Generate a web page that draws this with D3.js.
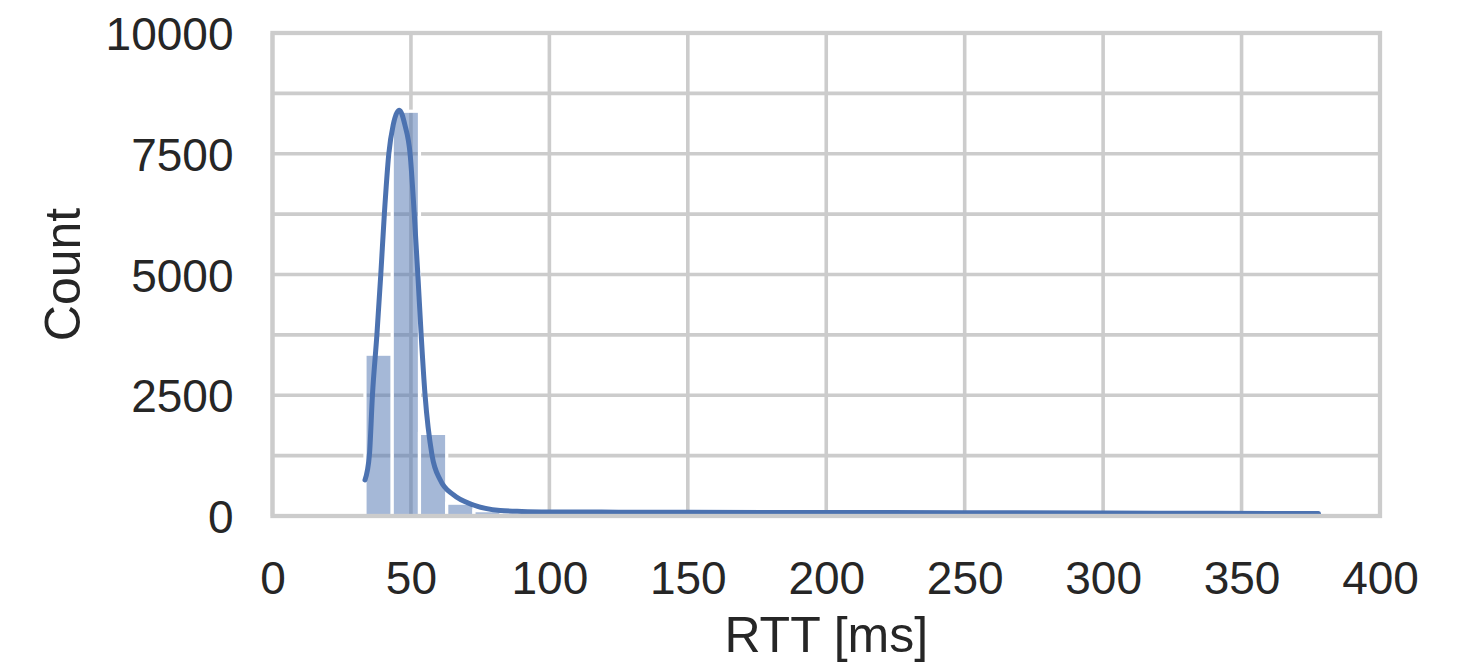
<!DOCTYPE html>
<html>
<head>
<meta charset="utf-8">
<script src="https://cdn.jsdelivr.net/npm/d3@7"></script>
<style>
  html, body { margin: 0; padding: 0; background: #ffffff; }
  svg { display: block; }
  text { font-family: "Liberation Sans", Arial, sans-serif; fill: #262626; }
</style>
</head>
<body>
<svg id="chart" width="1466" height="662"></svg>
<script>
// ---- data ----
const binStart = 33.4;      // ms, left edge of first bin
const binWidth = 9.84;      // ms
const binCounts = [3350, 8380, 1710, 265, 110, 80, 72, 70, 68, 66, 64, 62, 62, 60, 60, 58, 58, 56, 56, 55,
                   54, 54, 52, 52, 50, 50, 48, 48, 46, 46, 45, 44, 44, 42, 42];
const kdeX = [33.4, 35.0, 36.1, 37.7, 39.1, 40.4, 42.0, 43.6, 45.8, 47.8, 49.7, 51.2, 52.5, 53.7, 55.1, 57.6,
              60.6, 65.4, 72.6, 82.2, 90, 100, 125, 150, 200, 250, 300, 340, 377.8];
const kdeY = [745, 1263, 2505, 3747, 4990, 6253, 7495, 8100, 8400, 8100, 7495, 6253, 4990, 3747, 2505, 1263,
              745, 435, 228, 115, 95, 85, 80, 77, 72, 68, 62, 56, 50];
const xTicks = [0, 50, 100, 150, 200, 250, 300, 350, 400];
const yTicks = [0, 2500, 5000, 7500, 10000];
const yGrid = [0, 1250, 2500, 3750, 5000, 6250, 7500, 8750, 10000];
const xLabel = "RTT [ms]";
const yLabel = "Count";

(function () {
// ---- layout ----
const svg = d3.select("#chart");
const mLeft = 272.5, mRight = 1380, mTop = 33, mBottom = 516;
const x = d3.scaleLinear().domain([0, 400]).range([mLeft, mRight]);
const y = d3.scaleLinear().domain([0, 10000]).range([mBottom, mTop]);
const blue = "#4c72b0";
const gridColor = "#cccccc";

// grid
const g = svg.append("g");
g.selectAll(".hg").data(yGrid).join("line")
  .attr("x1", mLeft).attr("x2", mRight)
  .attr("y1", d => y(d)).attr("y2", d => y(d))
  .attr("stroke", gridColor).attr("stroke-width", 3.6);
g.selectAll(".vg").data(xTicks).join("line")
  .attr("y1", mTop).attr("y2", mBottom)
  .attr("x1", d => x(d)).attr("x2", d => x(d))
  .attr("stroke", gridColor).attr("stroke-width", 3.6);

// bars
svg.append("g").selectAll("rect").data(binCounts).join("rect")
  .attr("x", (d, i) => x(binStart + i * binWidth))
  .attr("width", (d, i) => x(binStart + (i + 1) * binWidth) - x(binStart + i * binWidth))
  .attr("y", d => y(d))
  .attr("height", d => y(0) - y(d))
  .attr("fill", blue).attr("fill-opacity", 0.5)
  .attr("stroke", "#ffffff").attr("stroke-width", 3.2);

// kde line
const pts = kdeX.map((v, i) => [v, kdeY[i]]);
svg.append("path")
  .datum(pts)
  .attr("d", d3.line().x(d => x(d[0])).y(d => y(d[1])).curve(d3.curveMonotoneX))
  .attr("fill", "none").attr("stroke", blue).attr("stroke-width", 5)
  .attr("stroke-linecap", "round").attr("stroke-linejoin", "round");

// spines
svg.append("rect")
  .attr("x", mLeft).attr("y", mTop)
  .attr("width", mRight - mLeft).attr("height", mBottom - mTop)
  .attr("fill", "none").attr("stroke", gridColor).attr("stroke-width", 4.3);

// axes (labels only, via d3 axes)
const xAxis = svg.append("g").attr("transform", `translate(0,${mBottom})`)
  .call(d3.axisBottom(x).tickValues(xTicks).tickSize(0).tickPadding(0).tickFormat(d3.format("d")));
xAxis.select(".domain").remove();
xAxis.selectAll("text").attr("font-size", 46).attr("dy", null).attr("y", 78)
  .attr("font-family", "'Liberation Sans', Arial, sans-serif").attr("fill", "#262626");

const yAxis = svg.append("g").attr("transform", `translate(${mLeft},0)`)
  .call(d3.axisLeft(y).tickValues(yTicks).tickSize(0).tickPadding(0).tickFormat(d3.format("d")));
yAxis.select(".domain").remove();
yAxis.selectAll("text").attr("font-size", 46).attr("x", -39).attr("dy", "0.36em")
  .attr("font-family", "'Liberation Sans', Arial, sans-serif").attr("fill", "#262626");

// axis titles
svg.append("text").attr("x", (mLeft + mRight) / 2).attr("y", 652)
  .attr("text-anchor", "middle").attr("font-size", 50).text(xLabel);
svg.append("text").attr("transform", `translate(80,${(mTop + mBottom) / 2}) rotate(-90)`)
  .attr("text-anchor", "middle").attr("font-size", 50).text(yLabel);
})();
</script>
</body>
</html>
